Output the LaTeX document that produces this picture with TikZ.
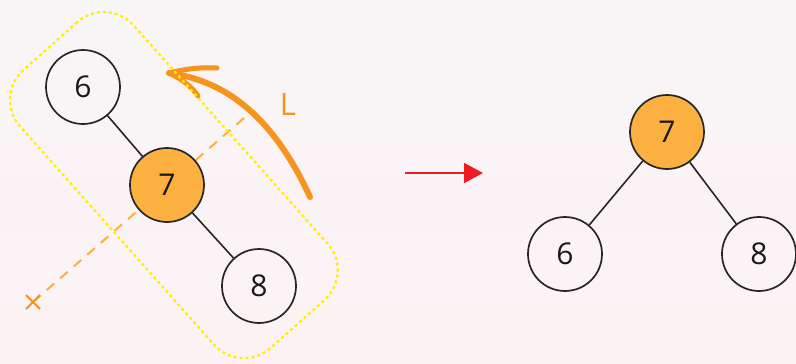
\documentclass[tikz,border=0pt]{standalone}
\usepackage{fontspec}
\setmainfont{Open Sans}
\usetikzlibrary{arrows.meta}
\definecolor{bgtop}{RGB}{248,245,247}
\definecolor{bgbot}{RGB}{252,242,244}
\definecolor{nodeorange}{RGB}{251,176,64}
\definecolor{darkorange}{RGB}{247,148,29}
\definecolor{lightorange}{RGB}{251,176,64}
\definecolor{boxyellow}{RGB}{255,238,0}
\definecolor{arrred}{RGB}{237,28,36}
\tikzset{
  treenode/.style={circle,draw=black!85,line width=1.7pt,minimum size=74pt,inner sep=0pt,font=\fontsize{30}{34}\selectfont,text=black!90},
  hotnode/.style={treenode,fill=nodeorange},
  treeedge/.style={draw=black!85,line width=1.6pt},
  rotarrow/.style={draw=darkorange,line width=6pt,line cap=round},
  axisline/.style={draw=lightorange,line width=2pt,dash pattern=on 10pt off 8pt},
  groupbox/.style={draw=boxyellow,line width=2.2pt,dash pattern=on 3pt off 3pt,rounded corners=40pt},
}
\begin{document}
\begin{tikzpicture}[x=1pt,y=-1pt]
\useasboundingbox (0,0) rectangle (796,364);
\shade[top color=bgtop,bottom color=bgbot] (0,0) rectangle (796,364);
% rotation axis
\coordinate (ax1) at (33,302);
\coordinate (ax2) at (244,118);
\draw[axisline] (ax1) -- (ax2);
\draw[darkorange,line width=2pt] (26,295) -- (40,309) (26,309) -- (40,295);
% left tree
\node[treenode] (l6) at (83,87) {6};
\node[hotnode] (l7) at (167,185) {7};
\node[treenode] (l8) at (259,286) {8};
\draw[treeedge] (l6) -- (l7);
\draw[treeedge] (l7) -- (l8);
% rotation arrow
\coordinate (rs) at (310,197);
\coordinate (rt) at (169,73);
\draw[rotarrow] (rs) .. controls (270,110) and (220,80) .. (rt);
\draw[rotarrow,line width=5pt] (rt) .. controls (185,69) and (200,67) .. (217,68);
\draw[rotarrow,line width=5pt] (rt) .. controls (182,79) and (192,87) .. (198,96);
\node[text=darkorange,font=\fontsize{31}{34}\selectfont] (lab) at (288,104) {L};
% group box
\draw[groupbox] (107.2,-4.4) -- (-6.4,96.6) -- (240.6,374.6) -- (354.2,273.6) -- cycle;
% transition arrow
\coordinate (ta1) at (405,173);
\coordinate (ta2) at (483,173);
\draw[arrred,line width=2pt,-{Triangle[length=19pt,width=20pt]}] (ta1) -- (ta2);
% right tree
\node[hotnode] (r7) at (667,132) {7};
\node[treenode] (r6) at (565,254) {6};
\node[treenode] (r8) at (759,254) {8};
\draw[treeedge] (r7) -- (r6);
\draw[treeedge] (r7) -- (r8);
\end{tikzpicture}
\end{document}
